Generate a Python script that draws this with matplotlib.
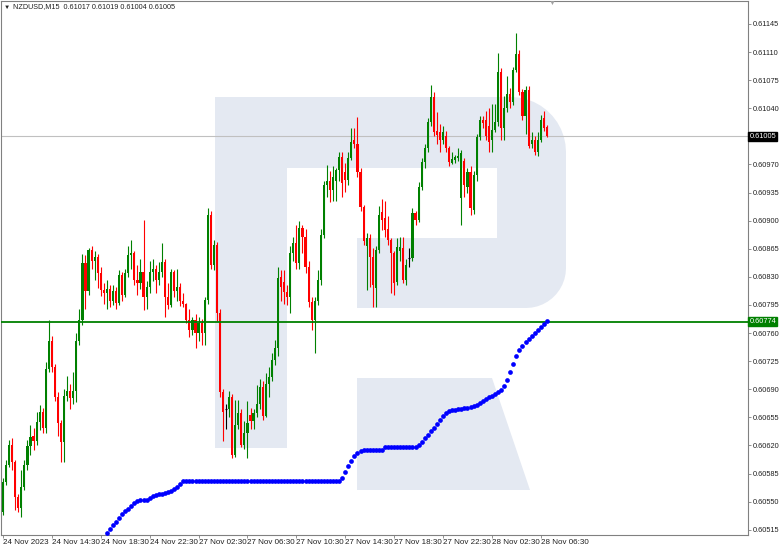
import numpy as np
import matplotlib.pyplot as plt
from matplotlib.patches import Polygon

plt.rcParams['font.family'] = ['Liberation Sans', 'DejaVu Sans']

# NZDUSD M15 candles, prices in 1e-5 units (60537 -> 0.60537)
open_pts = [
    60537, 60574, 60596, 60621, 60599, 60556, 60542, 60568, 60596, 60619,
    60632, 60626, 60649, 60662, 60642, 60715, 60750, 60718, 60680, 60648,
    60624, 60682, 60688, 60679, 60688, 60750, 60776, 60847, 60813, 60864,
    60850, 60855, 60835, 60814, 60810, 60815, 60800, 60812, 60798, 60832,
    60808, 60835, 60857, 60860, 60826, 60822, 60836, 60805, 60818, 60836,
    60840, 60826, 60836, 60849, 60805, 60795, 60836, 60812, 60818, 60800,
    60796, 60776, 60764, 60776, 60760, 60773, 60760, 60801, 60907, 60845,
    60870, 60785, 60687, 60665, 60665, 60680, 60608, 60645, 60660, 60621,
    60635, 60658, 60650, 60660, 60672, 60693, 60657, 60697, 60705, 60726,
    60741, 60830, 60823, 60811, 60805, 60860, 60872, 60847, 60891, 60880,
    60842, 60799, 60776, 60800, 60826, 60882, 60944, 60950, 60938, 60950,
    60963, 60979, 60960, 60951, 60978, 61000, 60996, 60960, 60917, 60868,
    60879, 60855, 60816, 60864, 60911, 60903, 60890, 60876, 60860, 60824,
    60862, 60866, 60826, 60854, 60854, 60910, 60901, 60942, 60973, 60990,
    61023, 61054, 61012, 61010, 61000, 61005, 60990, 60972, 60976, 60978,
    60928, 60974, 60942, 60960, 60913, 60957, 61004, 61026, 61025, 61018,
    61001, 61013, 61023, 61085, 61015, 61040, 61058, 61048, 61088, 61108,
    61060, 61030, 61063, 60995, 61000, 60986, 61001, 61028, 61017,
]
high_pts = [
    60580, 60602, 60627, 60629, 60602, 60560, 60589, 60602, 60627, 60646,
    60642, 60662, 60670, 60667, 60724, 60776, 60756, 60722, 60686, 60652,
    60690, 60706, 60697, 60712, 60760, 60790, 60858, 60857, 60866, 60868,
    60862, 60858, 60842, 60822, 60826, 60820, 60820, 60818, 60838, 60836,
    60840, 60868, 60876, 60862, 60845, 60852, 60901, 60825, 60850, 60852,
    60845, 60848, 60872, 60852, 60822, 60840, 60838, 60840, 60822, 60810,
    60798, 60790, 60780, 60784, 60780, 60778, 60805, 60916, 60912, 60876,
    60874, 60790, 60690, 60672, 60688, 60684, 60677, 60677, 60665, 60650,
    60675, 60667, 60665, 60695, 60703, 60700, 60710, 60718, 60735, 60751,
    60842, 60838, 60838, 60820, 60868, 60880, 60895, 60900, 60895, 60890,
    60850, 60805, 60805, 60838, 60890, 60950, 60969, 60962, 60968, 60966,
    60985, 60986, 60972, 60985, 61015, 61015, 61029, 60965, 60920, 60885,
    60883, 60866, 60868, 60918, 60927, 60925, 60906, 60878, 60862, 60878,
    60880, 60880, 60852, 60866, 60916, 60912, 60948, 60978, 60995, 61028,
    61069, 61060, 61035, 61020, 61018, 61012, 60993, 60985, 60982, 60990,
    60988, 60978, 60965, 60968, 60962, 61008, 61030, 61030, 61037, 61040,
    61045, 61045, 61109, 61090, 61055, 61080, 61065, 61092, 61134, 61112,
    61064, 61068, 61068, 61010, 61006, 61010, 61032, 61037, 61019,
]
low_pts = [
    60533, 60571, 60593, 60589, 60540, 60537, 60531, 60565, 60589, 60608,
    60614, 60620, 60639, 60636, 60636, 60712, 60712, 60676, 60632, 60600,
    60600, 60676, 60665, 60672, 60674, 60745, 60770, 60790, 60808, 60840,
    60826, 60816, 60806, 60796, 60790, 60793, 60795, 60790, 60795, 60800,
    60805, 60830, 60840, 60820, 60808, 60815, 60789, 60790, 60810, 60825,
    60810, 60820, 60830, 60780, 60790, 60792, 60805, 60800, 60794, 60792,
    60772, 60755, 60758, 60742, 60750, 60745, 60745, 60796, 60840, 60838,
    60775, 60680, 60625, 60640, 60655, 60604, 60606, 60640, 60618, 60615,
    60605, 60640, 60640, 60655, 60665, 60652, 60655, 60680, 60700, 60720,
    60731, 60800, 60796, 60795, 60785, 60850, 60840, 60840, 60860, 60835,
    60792, 60764, 60735, 60795, 60820, 60878, 60930, 60923, 60925, 60925,
    60950, 60930, 60936, 60945, 60975, 60990, 60955, 60912, 60870, 60814,
    60818, 60792, 60793, 60860, 60888, 60880, 60870, 60810, 60808, 60820,
    60850, 60822, 60820, 60842, 60850, 60895, 60898, 60938, 60965, 60985,
    61018, 61005, 60995, 60986, 60995, 60985, 60968, 60970, 60972, 60974,
    60895, 60930, 60935, 60907, 60908, 60950, 61000, 61015, 61000, 60985,
    60985, 61010, 61018, 61000, 61000, 61035, 61040, 61044, 61085, 61056,
    61025, 61008, 60990, 60990, 60982, 60980, 60998, 61012, 61004,
]
close_pts = [
    60574, 60596, 60621, 60599, 60556, 60542, 60568, 60596, 60619, 60631,
    60626, 60649, 60662, 60642, 60715, 60750, 60718, 60680, 60648, 60624,
    60682, 60688, 60679, 60688, 60750, 60776, 60847, 60813, 60864, 60850,
    60855, 60835, 60814, 60810, 60815, 60800, 60812, 60798, 60832, 60808,
    60835, 60857, 60860, 60826, 60822, 60836, 60805, 60818, 60836, 60840,
    60826, 60836, 60849, 60805, 60795, 60836, 60812, 60818, 60800, 60796,
    60776, 60764, 60776, 60760, 60773, 60760, 60801, 60907, 60845, 60870,
    60785, 60687, 60662, 60665, 60680, 60608, 60645, 60660, 60621, 60635,
    60648, 60650, 60660, 60672, 60693, 60657, 60697, 60705, 60726, 60741,
    60829, 60818, 60811, 60805, 60860, 60872, 60847, 60891, 60880, 60842,
    60799, 60776, 60800, 60826, 60882, 60944, 60950, 60938, 60955, 60963,
    60979, 60947, 60951, 60978, 60998, 60996, 60960, 60917, 60875, 60879,
    60855, 60820, 60864, 60907, 60901, 60888, 60876, 60860, 60822, 60867,
    60867, 60826, 60845, 60854, 60910, 60901, 60942, 60973, 60990, 61023,
    61054, 61010, 61007, 61000, 61010, 60990, 60973, 60977, 60979, 60980,
    60984, 60945, 60960, 60916, 60957, 61004, 61025, 61022, 61006, 60998,
    61013, 61023, 61085, 61015, 61040, 61058, 61048, 61088, 61108, 61060,
    61030, 61063, 60993, 61000, 60986, 61001, 61025, 61016, 61005,
]

# blue dotted indicator, last 145 bars
trail_pts = [
    60511, 60516, 60521, 60525, 60530, 60535, 60538, 60541, 60545, 60548,
    60551, 60552, 60552, 60552, 60555, 60557, 60558, 60560, 60560, 60561,
    60562, 60563, 60566, 60568, 60572, 60576,
    60576, 60576, 60576, 60576, 60576, 60576, 60576, 60576, 60576, 60576,
    60576, 60576, 60576, 60576, 60576, 60576, 60576, 60576, 60576, 60576,
    60576, 60576, 60576, 60576, 60576, 60576, 60576, 60576, 60576, 60576,
    60576, 60576, 60576, 60576, 60576, 60576, 60576, 60576, 60576, 60576,
    60576, 60576, 60576, 60576, 60576, 60576, 60576, 60576, 60576, 60576,
    60576,
    60580, 60587, 60594, 60601, 60607, 60611, 60613,
    60614, 60614, 60614, 60614, 60614, 60614, 60614,
    60618, 60618, 60618, 60618, 60618, 60618, 60618, 60618, 60618, 60618, 60618,
    60621, 60624, 60629, 60633, 60638, 60642, 60647, 60652, 60657, 60661,
    60663, 60664, 60664, 60665, 60665, 60667, 60667, 60668, 60669, 60670,
    60673, 60675, 60678, 60680, 60682, 60684, 60687, 60689, 60694, 60702,
    60712, 60722, 60731, 60739, 60744, 60749, 60753, 60756, 60760, 60764,
    60768, 60771, 60775,
]

time_labels = ['24 Nov 2023', '24 Nov 14:30', '24 Nov 18:30', '24 Nov 22:30',
               '27 Nov 02:30', '27 Nov 06:30', '27 Nov 10:30', '27 Nov 14:30',
               '27 Nov 18:30', '27 Nov 22:30', '28 Nov 02:30', '28 Nov 06:30']
price_ticks = [0.61145, 0.61110, 0.61075, 0.61040, 0.61005, 0.60970, 0.60935,
               0.60900, 0.60865, 0.60830, 0.60795, 0.60760, 0.60725, 0.60690,
               0.60655, 0.60620, 0.60585, 0.60550, 0.60515]
last_price = 0.61005
level_price = 0.60774
title_text = 'NZDUSD,M15  0.61017 0.61019 0.61004 0.61005'

o = np.array(open_pts) / 1e5
h = np.array(high_pts) / 1e5
l = np.array(low_pts) / 1e5
c = np.array(close_pts) / 1e5
trail = np.array(trail_pts) / 1e5
n = len(c)
x = np.arange(n)

W, H = 782, 548
fig = plt.figure(figsize=(W / 100, H / 100), dpi=100)
ax = fig.add_axes([1 / W, 13 / H, 747 / W, 534 / H])

# watermark (logo), drawn in pixel coordinates
def to_fig(pts):
    return [(px / W, 1 - py / H) for px, py in pts]

def arc(cx, cy, r, a0, a1):
    t = np.radians(np.linspace(a0, a1, 12))
    return [(cx + r * np.cos(a), cy - r * np.sin(a)) for a in t]

logo = [(215, 97)] + arc(511, 152, 55, 90, 0) + arc(526, 268, 40, 0, -90) + \
       [(357, 308), (357, 238), (497, 238), (497, 168), (287, 168), (287, 448), (215, 448)]
leg = [(357, 378), (492, 378), (530, 490), (357, 490)]
wm = '#e4e9f2'
for shape in (logo, leg):
    ax.add_patch(Polygon(to_fig(shape), closed=True, fc=wm, ec='none',
                         transform=fig.transFigure, zorder=0))

# price lines
ax.axhline(last_price, color='#c0c0c0', lw=0.8, zorder=1)
ax.axhline(level_price, color='#008000', lw=1.3, zorder=4)

# candles
up = c > o
down = c < o
flat = c == o
cols = np.where(up, '#008000', np.where(down, '#ff0000', '#000000'))
ax.vlines(x, l, h, colors=cols, lw=0.8, zorder=2)
body = np.abs(c - o)
ax.bar(x[~flat], body[~flat], bottom=np.minimum(o, c)[~flat], width=0.7,
       color=cols[~flat], linewidth=0, zorder=3)
ax.hlines(c[flat], x[flat] - 0.35, x[flat] + 0.35, colors='#000000', lw=0.8, zorder=3)

# indicator dots
tx = np.arange(n - len(trail), n)
ax.plot(tx, trail, 'o', color='#0000ff', markersize=3.4, markeredgewidth=0, zorder=5)

ax.set_xlim(-0.65, 243.8)
ax.set_ylim(0.605085, 0.611736)

# axes look
for s in ax.spines.values():
    s.set_color('#808080')
    s.set_linewidth(0.8)
ax.yaxis.tick_right()
ax.set_yticks(price_ticks)
# the current price tag covers its own tick label
ax.set_yticklabels(['' if p == last_price else f'{p:.5f}' for p in price_ticks])
ax.tick_params(axis='y', direction='out', length=2.5, width=0.6, color='#808080',
               labelsize=5.3, pad=1, labelcolor='#202020')
ax.set_xticks(np.arange(0, n, 16)[:len(time_labels)])
ax.set_xticklabels(time_labels, ha='left')
ax.tick_params(axis='x', direction='out', length=2.5, width=0.6, color='#808080',
               labelsize=5.8, pad=0.5, labelcolor='#202020')

# price tags on the right
for price, bg in ((last_price, '#000000'), (level_price, '#008000')):
    ax.text(1.0018, price, f'{price:.5f}', transform=ax.get_yaxis_transform(),
            ha='left', va='center', fontsize=5.3, color='white', zorder=6,
            bbox=dict(boxstyle='square,pad=0.15', fc=bg, ec=bg), clip_on=False)

# header
fig.text(4 / W, 1 - 7 / H, '\u25bc', fontsize=4.5, va='center', ha='left', color='#202020')
fig.text(13 / W, 1 - 7 / H, title_text, fontsize=5.2, va='center', ha='left', color='#202020')
fig.text(552 / W, 1 - 3 / H, '\u25bc', fontsize=5, va='center', ha='center', color='#a0a0a0')

plt.savefig('out.png', dpi=100)
